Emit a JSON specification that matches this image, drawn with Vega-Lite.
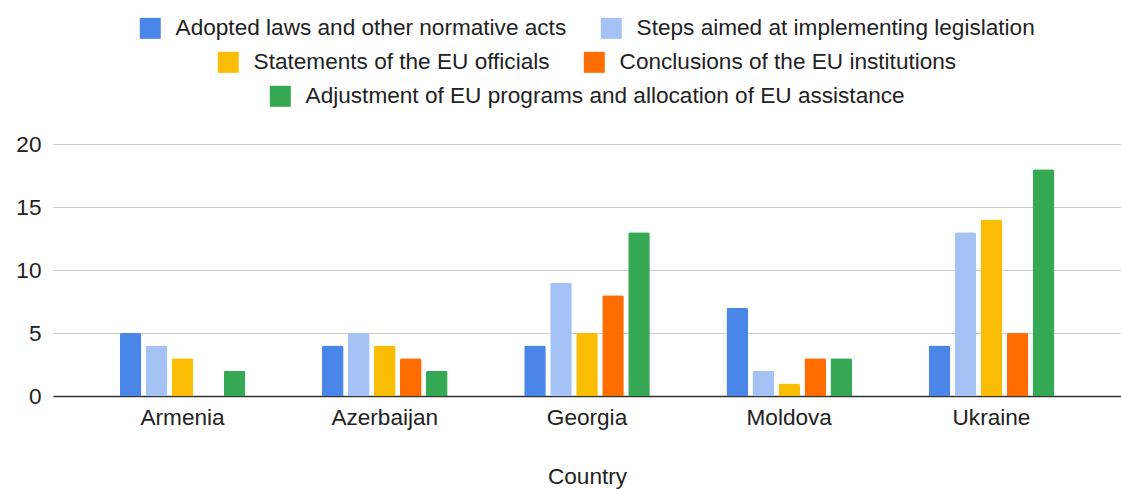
{
  "$schema": "https://vega.github.io/schema/vega-lite/v6.json",
  "width": 1121,
  "height": 489,
  "autosize": {"type": "fit", "contains": "padding"},
  "padding": {"left": 15, "right": 0, "top": 17, "bottom": 0},
  "background": "white",
  "config": {
    "font": "Liberation Sans",
    "view": {"stroke": null},
    "legend": {
      "layout": {"top": {"anchor": "middle", "direction": "vertical", "margin": 11, "center": true}},
      "title": null,
      "orient": "top",
      "direction": "horizontal",
      "symbolType": "square",
      "symbolSize": 440,
      "symbolStrokeWidth": 0,
      "labelFontSize": 22.6,
      "labelColor": "#222",
      "labelLimit": 800,
      "labelOffset": 14,
      "columnPadding": 33,
      "padding": 0,
      "offset": 36
    }
  },
  "data": {
    "values": [
      {"country": "Armenia", "category": "Adopted laws and other normative acts", "value": 5},
      {"country": "Armenia", "category": "Steps aimed at implementing legislation", "value": 4},
      {"country": "Armenia", "category": "Statements of the EU officials", "value": 3},
      {"country": "Armenia", "category": "Conclusions of the EU institutions", "value": 0},
      {"country": "Armenia", "category": "Adjustment of EU programs and allocation of EU assistance", "value": 2},
      {"country": "Azerbaijan", "category": "Adopted laws and other normative acts", "value": 4},
      {"country": "Azerbaijan", "category": "Steps aimed at implementing legislation", "value": 5},
      {"country": "Azerbaijan", "category": "Statements of the EU officials", "value": 4},
      {"country": "Azerbaijan", "category": "Conclusions of the EU institutions", "value": 3},
      {"country": "Azerbaijan", "category": "Adjustment of EU programs and allocation of EU assistance", "value": 2},
      {"country": "Georgia", "category": "Adopted laws and other normative acts", "value": 4},
      {"country": "Georgia", "category": "Steps aimed at implementing legislation", "value": 9},
      {"country": "Georgia", "category": "Statements of the EU officials", "value": 5},
      {"country": "Georgia", "category": "Conclusions of the EU institutions", "value": 8},
      {"country": "Georgia", "category": "Adjustment of EU programs and allocation of EU assistance", "value": 13},
      {"country": "Moldova", "category": "Adopted laws and other normative acts", "value": 7},
      {"country": "Moldova", "category": "Steps aimed at implementing legislation", "value": 2},
      {"country": "Moldova", "category": "Statements of the EU officials", "value": 1},
      {"country": "Moldova", "category": "Conclusions of the EU institutions", "value": 3},
      {"country": "Moldova", "category": "Adjustment of EU programs and allocation of EU assistance", "value": 3},
      {"country": "Ukraine", "category": "Adopted laws and other normative acts", "value": 4},
      {"country": "Ukraine", "category": "Steps aimed at implementing legislation", "value": 13},
      {"country": "Ukraine", "category": "Statements of the EU officials", "value": 14},
      {"country": "Ukraine", "category": "Conclusions of the EU institutions", "value": 5},
      {"country": "Ukraine", "category": "Adjustment of EU programs and allocation of EU assistance", "value": 18}
    ]
  },
  "encoding": {
    "x": {
      "field": "country",
      "type": "nominal",
      "sort": null,
      "title": "Country",
      "scale": {"paddingInner": 0.379, "paddingOuter": 0.33},
      "axis": {
        "labelAngle": 0,
        "labelFontSize": 22.6,
        "labelColor": "#222",
        "labelPadding": 10,
        "ticks": false,
        "domainColor": "#333",
        "domainWidth": 1.5,
        "titleFontSize": 22.6,
        "titleFontWeight": "normal",
        "titleColor": "#222",
        "titlePadding": 37
      }
    },
    "xOffset": {
      "field": "category",
      "type": "nominal",
      "sort": null,
      "scale": {
        "domain": [
          "Adopted laws and other normative acts",
          "Steps aimed at implementing legislation",
          "Statements of the EU officials",
          "Conclusions of the EU institutions",
          "Adjustment of EU programs and allocation of EU assistance"
        ],
        "paddingInner": 0.17
      }
    },
    "y": {
      "field": "value",
      "type": "quantitative",
      "title": null,
      "scale": {"domain": [0, 20]},
      "axis": {
        "values": [0, 5, 10, 15, 20],
        "labelFontSize": 22.6,
        "labelColor": "#222",
        "labelPadding": 12,
        "ticks": false,
        "domain": false,
        "gridColor": "#cccccc",
        "gridWidth": 1
      }
    }
  },
  "layer": [
    {
      "transform": [{"filter": {"field": "category", "oneOf": ["Adopted laws and other normative acts", "Steps aimed at implementing legislation"]}}],
      "mark": {"type": "bar", "cornerRadiusTopLeft": 2, "cornerRadiusTopRight": 2},
      "encoding": {
        "color": {
          "field": "category",
          "type": "nominal",
          "sort": null,
          "scale": {
            "domain": ["Adopted laws and other normative acts", "Steps aimed at implementing legislation"],
            "range": ["#4a86e8", "#a4c2f4"]
          },
          "legend": {"title": null}
        }
      }
    },
    {
      "transform": [{"filter": {"field": "category", "oneOf": ["Statements of the EU officials", "Conclusions of the EU institutions"]}}],
      "mark": {"type": "bar", "cornerRadiusTopLeft": 2, "cornerRadiusTopRight": 2},
      "encoding": {
        "color": {
          "field": "category",
          "type": "nominal",
          "sort": null,
          "scale": {
            "domain": ["Statements of the EU officials", "Conclusions of the EU institutions"],
            "range": ["#fbbc04", "#ff6d01"]
          },
          "legend": {"title": null}
        }
      }
    },
    {
      "transform": [{"filter": {"field": "category", "oneOf": ["Adjustment of EU programs and allocation of EU assistance"]}}],
      "mark": {"type": "bar", "cornerRadiusTopLeft": 2, "cornerRadiusTopRight": 2},
      "encoding": {
        "color": {
          "field": "category",
          "type": "nominal",
          "sort": null,
          "scale": {
            "domain": ["Adjustment of EU programs and allocation of EU assistance"],
            "range": ["#34a853"]
          },
          "legend": {"title": null}
        }
      }
    }
  ],
  "resolve": {"scale": {"color": "independent"}, "legend": {"color": "independent"}}
}
